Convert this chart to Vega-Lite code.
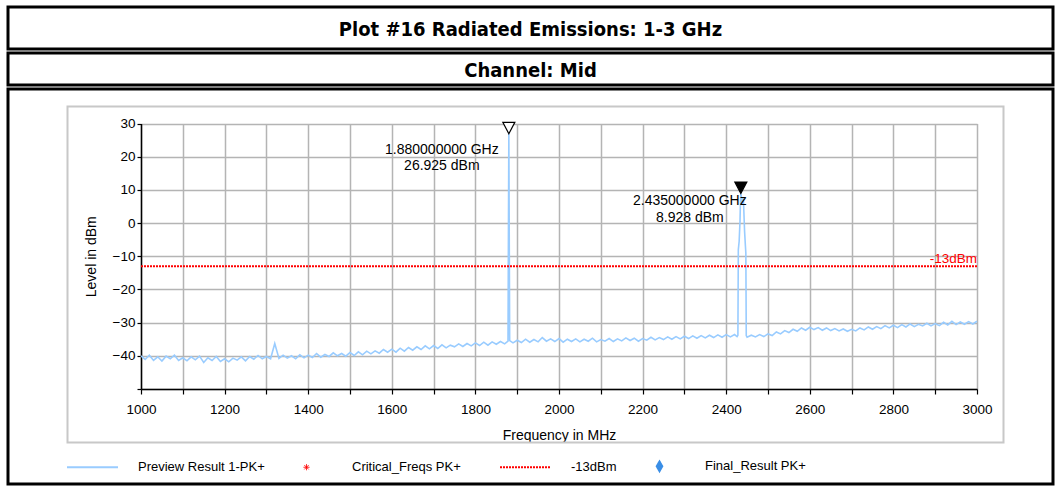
{
  "$schema": "https://vega.github.io/schema/vega-lite/v6.json",
  "background": "white",
  "padding": {"left": 6, "top": 5, "right": 0, "bottom": 0},
  "spacing": 0,
  "config": {
    "view": {"stroke": "#000000", "strokeWidth": 3},
    "font": "Liberation Sans",
    "axis": {"labelFont": "Liberation Sans", "titleFont": "Liberation Sans", "labelColor": "#000000", "titleColor": "#000000"}
  },
  "datasets": {
    "trace": [
      {"f":1000,"v":-40.0},{"f":1010,"v":-41.1},{"f":1020,"v":-39.8},{"f":1030,"v":-41.4},{"f":1040,"v":-40.3},{"f":1050,"v":-41.6},{"f":1060,"v":-40.1},{"f":1070,"v":-40.9},{"f":1080,"v":-39.8},{"f":1090,"v":-41.4},
      {"f":1100,"v":-40.6},{"f":1110,"v":-41.5},{"f":1120,"v":-40.3},{"f":1130,"v":-41.2},{"f":1140,"v":-40.1},{"f":1150,"v":-42.0},{"f":1160,"v":-40.6},{"f":1170,"v":-41.4},{"f":1180,"v":-40.2},{"f":1190,"v":-41.7},
      {"f":1200,"v":-40.9},{"f":1210,"v":-41.8},{"f":1220,"v":-40.7},{"f":1230,"v":-41.3},{"f":1240,"v":-40.3},{"f":1250,"v":-41.5},{"f":1260,"v":-40.2},{"f":1270,"v":-41.0},{"f":1280,"v":-39.9},{"f":1290,"v":-40.9},
      {"f":1300,"v":-40.2},{"f":1310,"v":-40.9},{"f":1320,"v":-36.3},{"f":1330,"v":-40.8},{"f":1340,"v":-39.8},{"f":1350,"v":-40.7},{"f":1360,"v":-40.0},{"f":1370,"v":-40.9},{"f":1380,"v":-39.7},{"f":1390,"v":-40.6},
      {"f":1400,"v":-39.8},{"f":1410,"v":-40.5},{"f":1420,"v":-39.3},{"f":1430,"v":-40.4},{"f":1440,"v":-39.6},{"f":1450,"v":-40.2},{"f":1460,"v":-39.1},{"f":1470,"v":-40.0},{"f":1480,"v":-39.3},{"f":1490,"v":-40.1},
      {"f":1500,"v":-39.0},{"f":1510,"v":-39.9},{"f":1520,"v":-38.8},{"f":1530,"v":-39.7},{"f":1540,"v":-38.6},{"f":1550,"v":-39.4},{"f":1560,"v":-38.5},{"f":1570,"v":-39.2},{"f":1580,"v":-38.1},{"f":1590,"v":-38.9},
      {"f":1600,"v":-38.0},{"f":1610,"v":-38.9},{"f":1620,"v":-37.7},{"f":1630,"v":-38.6},{"f":1640,"v":-37.5},{"f":1650,"v":-38.3},{"f":1660,"v":-37.3},{"f":1670,"v":-38.1},{"f":1680,"v":-37.0},{"f":1690,"v":-37.9},
      {"f":1700,"v":-36.9},{"f":1710,"v":-37.8},{"f":1720,"v":-36.7},{"f":1730,"v":-37.6},{"f":1740,"v":-36.8},{"f":1750,"v":-37.3},{"f":1760,"v":-36.4},{"f":1770,"v":-37.2},{"f":1780,"v":-36.3},{"f":1790,"v":-37.0},
      {"f":1800,"v":-36.1},{"f":1810,"v":-36.9},{"f":1820,"v":-35.9},{"f":1830,"v":-36.8},{"f":1840,"v":-35.8},{"f":1850,"v":-36.5},{"f":1860,"v":-35.7},{"f":1870,"v":-36.4},{"f":1878,"v":-35.6},{"f":1880,"v":26.925},{"f":1882,"v":-35.4},{"f":1890,"v":-36.1},
      {"f":1900,"v":-35.3},{"f":1910,"v":-36.0},{"f":1920,"v":-35.0},{"f":1930,"v":-35.9},{"f":1940,"v":-35.1},{"f":1950,"v":-35.8},{"f":1960,"v":-34.5},{"f":1970,"v":-35.6},{"f":1980,"v":-34.9},{"f":1990,"v":-35.7},
      {"f":2000,"v":-34.8},{"f":2010,"v":-35.9},{"f":2020,"v":-35.0},{"f":2030,"v":-35.7},{"f":2040,"v":-34.9},{"f":2050,"v":-35.8},{"f":2060,"v":-35.0},{"f":2070,"v":-35.6},{"f":2080,"v":-34.7},{"f":2090,"v":-35.8},
      {"f":2100,"v":-35.1},{"f":2110,"v":-35.6},{"f":2120,"v":-34.8},{"f":2130,"v":-35.7},{"f":2140,"v":-34.9},{"f":2150,"v":-35.5},{"f":2160,"v":-34.6},{"f":2170,"v":-35.4},{"f":2180,"v":-34.7},{"f":2190,"v":-35.6},
      {"f":2200,"v":-34.8},{"f":2210,"v":-35.3},{"f":2220,"v":-34.4},{"f":2230,"v":-35.2},{"f":2240,"v":-34.5},{"f":2250,"v":-35.1},{"f":2260,"v":-34.3},{"f":2270,"v":-35.0},{"f":2280,"v":-34.2},{"f":2290,"v":-34.9},
      {"f":2300,"v":-34.1},{"f":2310,"v":-34.8},{"f":2320,"v":-34.0},{"f":2330,"v":-34.7},{"f":2340,"v":-33.9},{"f":2350,"v":-34.6},{"f":2360,"v":-33.8},{"f":2370,"v":-34.5},{"f":2380,"v":-33.7},{"f":2390,"v":-34.4},
      {"f":2400,"v":-33.6},{"f":2410,"v":-34.3},{"f":2420,"v":-33.6},{"f":2426,"v":-34.2},{"f":2428,"v":-33.8},{"f":2429,"v":-8.0},{"f":2431,"v":-5.5},{"f":2433,"v":0.5},{"f":2434,"v":6.0},{"f":2435,"v":8.928},{"f":2437,"v":7.4},{"f":2439,"v":5.6},{"f":2441,"v":7.8},{"f":2443,"v":1.0},{"f":2444,"v":-2.5},{"f":2446,"v":-7.0},{"f":2447,"v":-9.0},{"f":2448,"v":-33.9},
      {"f":2450,"v":-34.4},{"f":2460,"v":-33.8},{"f":2470,"v":-34.3},{"f":2480,"v":-33.6},{"f":2490,"v":-34.2},
      {"f":2500,"v":-33.4},{"f":2510,"v":-33.9},{"f":2520,"v":-32.8},{"f":2530,"v":-33.4},{"f":2540,"v":-32.4},{"f":2550,"v":-33.0},{"f":2560,"v":-32.0},{"f":2570,"v":-32.6},{"f":2580,"v":-31.6},{"f":2590,"v":-32.3},
      {"f":2600,"v":-31.4},{"f":2610,"v":-32.1},{"f":2620,"v":-31.5},{"f":2630,"v":-32.3},{"f":2640,"v":-31.6},{"f":2650,"v":-32.4},{"f":2660,"v":-31.8},{"f":2670,"v":-32.5},{"f":2680,"v":-31.9},{"f":2690,"v":-32.6},
      {"f":2700,"v":-32.0},{"f":2710,"v":-32.5},{"f":2720,"v":-31.6},{"f":2730,"v":-32.2},{"f":2740,"v":-31.3},{"f":2750,"v":-32.0},{"f":2760,"v":-31.2},{"f":2770,"v":-31.8},{"f":2780,"v":-30.9},{"f":2790,"v":-31.6},
      {"f":2800,"v":-30.8},{"f":2810,"v":-31.5},{"f":2820,"v":-30.6},{"f":2830,"v":-31.3},{"f":2840,"v":-30.4},{"f":2850,"v":-31.2},{"f":2860,"v":-30.5},{"f":2870,"v":-31.0},{"f":2880,"v":-30.2},{"f":2890,"v":-31.0},
      {"f":2900,"v":-30.3},{"f":2910,"v":-30.9},{"f":2920,"v":-29.9},{"f":2930,"v":-30.7},{"f":2940,"v":-29.6},{"f":2950,"v":-30.6},{"f":2960,"v":-29.8},{"f":2970,"v":-30.5},{"f":2980,"v":-29.7},{"f":2990,"v":-30.4},
      {"f":3000,"v":-29.6}
    ],
    "limit": [{"f": 1000, "f2": 3000, "v": -13, "label": "-13dBm"}],
    "markers": [
      {"f": 1880, "v": 26.925, "type": "open", "label": ["1.880000000 GHz", "26.925 dBm"]},
      {"f": 2435, "v": 8.928, "type": "filled", "label": ["2.435000000 GHz", "8.928 dBm"]}
    ]
  },
  "vconcat": [
    {
      "width": 1045, "height": 42,
      "data": {"values": [{"t": "Plot #16 Radiated Emissions: 1-3 GHz", "x": 0.5, "y": 0.5}]},
      "mark": {"type": "text", "font": "Liberation Sans Narrow, DejaVu Sans Condensed, Liberation Sans, sans-serif", "fontWeight": "bold", "fontSize": 20, "color": "#000000", "dy": 2},
      "encoding": {
        "x": {"field": "x", "type": "quantitative", "scale": {"domain": [0, 1]}, "axis": null},
        "y": {"field": "y", "type": "quantitative", "scale": {"domain": [0, 1]}, "axis": null},
        "text": {"field": "t"}
      }
    },
    {
      "width": 1045, "height": 32,
      "data": {"values": [{"t": "Channel: Mid", "x": 0.5, "y": 0.5}]},
      "mark": {"type": "text", "font": "Liberation Sans Narrow, DejaVu Sans Condensed, Liberation Sans, sans-serif", "fontWeight": "bold", "fontSize": 20, "color": "#000000", "dy": 2},
      "encoding": {
        "x": {"field": "x", "type": "quantitative", "scale": {"domain": [0, 1]}, "axis": null},
        "y": {"field": "y", "type": "quantitative", "scale": {"domain": [0, 1]}, "axis": null},
        "text": {"field": "t"}
      }
    },
    {
      "width": 1045, "height": 395,
      "layer": [
        {
          "data": {"values": [{}]},
          "mark": {"type": "rect", "fill": "transparent", "stroke": "#c8c8c8", "strokeWidth": 2},
          "encoding": {
            "x": {"datum": 0, "type": "quantitative", "scale": {"domain": [0, 1], "range": [59.5, 995.5]}, "axis": null},
            "x2": {"datum": 1},
            "y": {"datum": 0, "type": "quantitative", "scale": {"domain": [0, 1], "range": [353.5, 17.5]}, "axis": null},
            "y2": {"datum": 1}
          }
        },
        {
          "layer": [
            {
              "data": {"name": "trace"},
              "mark": {"type": "line", "strokeWidth": 1.6},
              "encoding": {
                "x": {
                  "field": "f", "type": "quantitative",
                  "scale": {"domain": [1000, 3000], "range": [133, 969], "nice": false, "zero": false},
                  "axis": {
                    "title": null, "orient": "top", "offset": 0,
                    "values": [1000,1100,1200,1300,1400,1500,1600,1700,1800,1900,2000,2100,2200,2300,2400,2500,2600,2700,2800,2900,3000],
                    "grid": true, "gridColor": "#b4b4b4", "gridWidth": 1.5,
                    "labels": false, "ticks": false, "domain": false
                  }
                },
                "y": {
                  "field": "v", "type": "quantitative",
                  "scale": {"domain": [-50, 30], "range": [300, 34.5], "nice": false, "zero": false},
                  "axis": {
                    "title": "Level in dBm", "orient": "left", "offset": -133,
                    "values": [-50,-45,-40,-35,-30,-25,-20,-15,-10,-5,0,5,10,15,20,25,30],
                    "labelExpr": "datum.value % 10 === 0 && datum.value > -50 ? datum.label : ''",
                    "grid": true, "gridColor": "#b4b4b4", "gridWidth": 1.5,
                    "domainColor": "#000000", "domainWidth": 1.5,
                    "tickColor": "#000000", "tickSize": 4, "tickWidth": 1.2,
                    "labelPadding": 2, "labelFontSize": 13.5, "labelOverlap": false, "labelFlush": false,
                    "titleFontSize": 14, "titleFontWeight": "normal", "titlePadding": 14
                  }
                },
                "color": {
                  "datum": "Preview Result 1-PK+", "type": "nominal",
                  "scale": {
                    "domain": ["Preview Result 1-PK+", "Critical_Freqs PK+", "-13dBm", "Final_Result PK+"],
                    "range": ["#99ccff", "#ff0000", "#ff0000", "#3a8ee6"]
                  },
                  "legend": {
                    "title": null, "orient": "none", "legendX": 78, "legendY": 452.5,
                    "direction": "horizontal", "padding": 0,
                    "symbolType": "stroke",
                    "labelFont": "Liberation Sans", "labelFontSize": 13, "labelColor": "#000000",
                    "labelOffset": 39, "columnPadding": 35,
                    "encode": {
                      "symbols": {
                        "update": {
                          "shape": {"signal": "datum.value === 'Critical_Freqs PK+' ? 'M-1,0L1,0M0,-1L0,1M-0.7,-0.7L0.7,0.7M-0.7,0.7L0.7,-0.7' : (datum.value === 'Final_Result PK+' ? 'M0,-1.4L0.8,0L0,1.4L-0.8,0Z' : 'stroke')"},
                          "size": {"signal": "datum.value === 'Critical_Freqs PK+' ? 36 : (datum.value === 'Final_Result PK+' ? 49 : 2601)"},
                          "fill": {"signal": "datum.value === 'Final_Result PK+' ? '#3a8ee6' : 'transparent'"},
                          "stroke": {"signal": "datum.value === 'Preview Result 1-PK+' ? '#b8d8f8' : (datum.value === 'Final_Result PK+' ? '#3a8ee6' : '#ff0000')"},
                          "strokeDash": {"signal": "datum.value === '-13dBm' ? [2, 1] : [1, 0]"},
                          "strokeWidth": {"signal": "datum.value === 'Critical_Freqs PK+' ? 1 : 2"},
                          "opacity": {"value": 1}
                        }
                      }
                    }
                  }
                }
              }
            },
            {
              "data": {"name": "limit"},
              "mark": {"type": "rule", "color": "#ff0000", "strokeWidth": 2, "strokeDash": [2, 1]},
              "encoding": {
                "x": {
                  "field": "f", "type": "quantitative",
                  "axis": {
                    "title": "Frequency in MHz", "orient": "bottom", "offset": -95,
                    "values": [1000,1100,1200,1300,1400,1500,1600,1700,1800,1900,2000,2100,2200,2300,2400,2500,2600,2700,2800,2900,3000],
                    "format": "d",
                    "labelExpr": "datum.value % 200 === 0 ? datum.label : ''",
                    "grid": false,
                    "domainColor": "#000000", "domainWidth": 1.5,
                    "tickColor": "#000000", "tickSize": 5, "tickWidth": 1.2,
                    "labelPadding": 8, "labelFontSize": 13.5, "labelOverlap": false, "labelFlush": false,
                    "titleFontSize": 14, "titleFontWeight": "normal", "titlePadding": 13
                  }
                },
                "x2": {"field": "f2"},
                "y": {"field": "v", "type": "quantitative"}
              }
            },
            {
              "data": {"name": "limit"},
              "mark": {"type": "text", "color": "#ff0000", "fontSize": 13.5, "align": "right", "baseline": "alphabetic", "dy": -3},
              "encoding": {
                "x": {"field": "f2", "type": "quantitative", "axis": null},
                "y": {"field": "v", "type": "quantitative"},
                "text": {"field": "label"}
              }
            },
            {
              "data": {"name": "markers"},
              "mark": {"type": "point", "shape": "M-1,-1.9L1,-1.9L0,0Z", "size": 144, "stroke": "#000000", "strokeWidth": 1.2, "filled": true, "opacity": 1},
              "encoding": {
                "x": {"field": "f", "type": "quantitative", "axis": null},
                "y": {"field": "v", "type": "quantitative"},
                "fill": {"condition": {"test": "datum.type === 'filled'", "value": "#000000"}, "value": "#ffffff"}
              }
            },
            {
              "data": {"name": "markers"},
              "transform": [{"filter": "datum.type === 'open'"}],
              "mark": {"type": "text", "fontSize": 14, "align": "center", "baseline": "alphabetic", "dx": -67, "dy": 20, "lineHeight": 16, "color": "#000000"},
              "encoding": {
                "x": {"field": "f", "type": "quantitative", "axis": null},
                "y": {"field": "v", "type": "quantitative"},
                "text": {"field": "label"}
              }
            },
            {
              "data": {"name": "markers"},
              "transform": [{"filter": "datum.type === 'filled'"}],
              "mark": {"type": "text", "fontSize": 14, "align": "center", "baseline": "alphabetic", "dx": -51, "dy": 12, "lineHeight": 16.5, "color": "#000000"},
              "encoding": {
                "x": {"field": "f", "type": "quantitative", "axis": null},
                "y": {"field": "v", "type": "quantitative"},
                "text": {"field": "label"}
              }
            }
          ],
          "resolve": {"axis": {"x": "independent"}}
        }
      ],
      "resolve": {"scale": {"x": "independent", "y": "independent"}}
    }
  ]
}
